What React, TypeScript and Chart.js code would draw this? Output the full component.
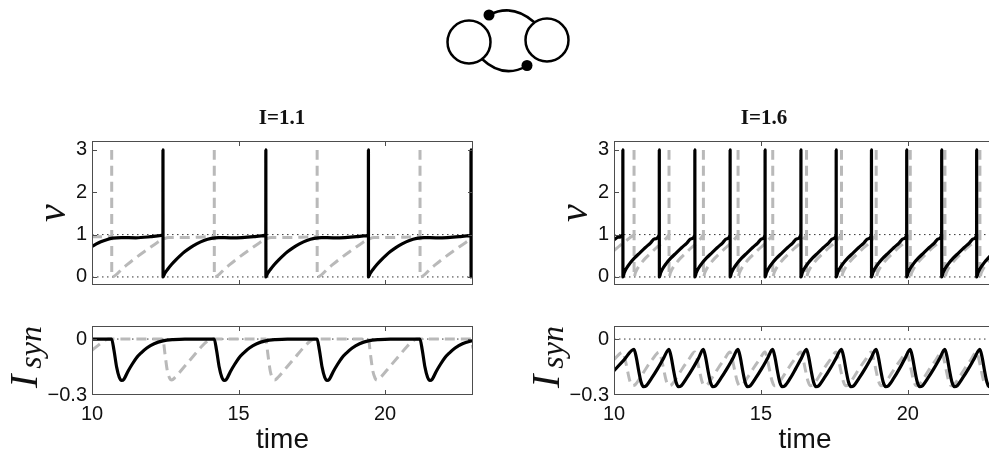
import React, { useEffect, useRef } from 'react';
import { Chart, registerables } from 'chart.js';

Chart.register(...registerables);

type Pt = [number, number | null];

// ---------- axes / labels ----------
const timeTicks = [10, 15, 20];
const timeRange = [10, 23];
const vTicks = [0, 1, 2, 3];
const vTickLabels = ['0', '1', '2', '3'];
const vRange = [-0.19, 3.21];
const synTicks = [-0.3, 0];
const synTickLabels = ['−0.3', '0'];
const synRange = [-0.3, 0.07];
const vRefLevels = [0, 1];
const synRefLevels = [0];
const panelTitles = ['I=1.1', 'I=1.6'];
const xAxisLabel = 'time';

// ---------- I = 1.1 ----------
const v11Black: Pt[] = [
  [10.00, 0.72], [10.15, 0.78], [10.30, 0.83], [10.50, 0.88], [10.70, 0.915], [11.00, 0.93], [11.50, 0.925], [12.00, 0.95], [12.25, 0.97], [12.42, 1.00], [12.422, 3.00], [12.424, 0.00],
  [12.48, 0.08], [12.57, 0.17], [12.72, 0.30], [12.87, 0.41], [13.02, 0.51], [13.17, 0.60], [13.37, 0.70], [13.57, 0.78], [13.82, 0.86], [14.07, 0.91], [14.32, 0.93], [14.72, 0.925], [15.12, 0.93], [15.52, 0.95], [15.77, 0.97], [15.93, 1.00], [15.932, 3.00], [15.934, 0.00],
  [15.99, 0.08], [16.08, 0.17], [16.23, 0.30], [16.38, 0.41], [16.53, 0.51], [16.68, 0.60], [16.88, 0.70], [17.08, 0.78], [17.33, 0.86], [17.58, 0.91], [17.83, 0.93], [18.23, 0.925], [18.63, 0.93], [19.03, 0.95], [19.28, 0.97], [19.43, 1.00], [19.432, 3.00], [19.434, 0.00],
  [19.49, 0.08], [19.58, 0.17], [19.73, 0.30], [19.88, 0.41], [20.03, 0.51], [20.18, 0.60], [20.38, 0.70], [20.58, 0.78], [20.83, 0.86], [21.08, 0.91], [21.33, 0.93], [21.73, 0.925], [22.13, 0.93], [22.53, 0.95], [22.78, 0.97], [22.93, 1.00], [22.932, 3.00], [22.934, 0.00], [23.00, 0.09],
];

const v11Gray: Pt[] = [
  [10.00, 0.95], [10.40, 0.95], [10.67, 0.96], [10.671, null], [10.672, 3.00], [10.674, 0.00],
  [11.07, 0.22], [11.47, 0.44], [11.87, 0.64], [12.22, 0.81], [12.42, 0.89], [12.62, 0.93], [13.17, 0.93], [13.67, 0.94], [13.97, 0.95], [14.17, 0.96], [14.171, null], [14.172, 3.00], [14.174, 0.00],
  [14.57, 0.22], [14.97, 0.44], [15.37, 0.64], [15.72, 0.81], [15.92, 0.89], [16.12, 0.93], [16.67, 0.93], [17.17, 0.94], [17.48, 0.95], [17.68, 0.96], [17.681, null], [17.682, 3.00], [17.684, 0.00],
  [18.08, 0.22], [18.48, 0.44], [18.88, 0.64], [19.23, 0.81], [19.43, 0.89], [19.63, 0.93], [20.18, 0.93], [20.68, 0.94], [20.99, 0.95], [21.19, 0.96], [21.191, null], [21.192, 3.00], [21.194, 0.00],
  [21.59, 0.22], [21.99, 0.44], [22.39, 0.64], [22.74, 0.81], [22.94, 0.89], [23.00, 0.90],
];

const syn11Black: Pt[] = [
  [10.00, 0], [10.67, 0], [10.75, -0.06], [10.84, -0.15], [10.93, -0.205], [11.01, -0.222], [11.09, -0.215], [11.22, -0.175], [11.37, -0.135], [11.52, -0.10], [11.67, -0.075], [11.87, -0.048], [12.12, -0.025], [12.42, -0.01], [12.77, -0.003], [13.17, 0], [14.17, 0],
  [14.25, -0.06], [14.34, -0.15], [14.43, -0.205], [14.51, -0.222], [14.59, -0.215], [14.72, -0.175], [14.87, -0.135], [15.02, -0.10], [15.17, -0.075], [15.37, -0.048], [15.62, -0.025], [15.92, -0.01], [16.27, -0.003], [16.67, 0], [17.68, 0],
  [17.76, -0.06], [17.85, -0.15], [17.94, -0.205], [18.02, -0.222], [18.10, -0.215], [18.23, -0.175], [18.38, -0.135], [18.53, -0.10], [18.68, -0.075], [18.88, -0.048], [19.13, -0.025], [19.43, -0.01], [19.78, -0.003], [20.18, 0], [21.19, 0],
  [21.27, -0.06], [21.36, -0.15], [21.45, -0.205], [21.53, -0.222], [21.61, -0.215], [21.74, -0.175], [21.89, -0.135], [22.04, -0.10], [22.19, -0.075], [22.39, -0.048], [22.64, -0.025], [22.94, -0.01], [23.00, -0.008],
];

const syn11Gray: Pt[] = [
  [10.00, -0.06], [10.20, -0.035], [10.40, -0.012], [10.55, 0], [12.42, 0],
  [12.49, -0.08], [12.57, -0.17], [12.65, -0.21], [12.72, -0.22], [12.84, -0.205], [13.14, -0.15], [13.44, -0.095], [13.74, -0.04], [13.92, -0.013], [14.07, 0], [15.93, 0],
  [16.00, -0.08], [16.08, -0.17], [16.16, -0.21], [16.23, -0.22], [16.35, -0.205], [16.65, -0.15], [16.95, -0.095], [17.25, -0.04], [17.43, -0.013], [17.58, 0], [19.43, 0],
  [19.50, -0.08], [19.58, -0.17], [19.66, -0.21], [19.73, -0.22], [19.85, -0.205], [20.15, -0.15], [20.45, -0.095], [20.75, -0.04], [20.93, -0.013], [21.08, 0], [22.93, 0], [23.00, -0.05],
];

// ---------- I = 1.6 ----------
const v16Black: Pt[] = [
  [10.00, 0.88], [10.15, 0.94], [10.30, 1.00], [10.302, 3.00], [10.304, 0.00],
  [10.35, 0.10], [10.42, 0.20], [10.54, 0.32], [10.70, 0.45], [10.88, 0.57], [11.06, 0.69], [11.24, 0.80], [11.38, 0.90], [11.54, 1.00], [11.542, 3.00], [11.544, 0.00],
  [11.59, 0.10], [11.66, 0.20], [11.78, 0.32], [11.94, 0.45], [12.12, 0.57], [12.30, 0.69], [12.48, 0.80], [12.62, 0.90], [12.75, 1.00], [12.752, 3.00], [12.754, 0.00],
  [12.80, 0.10], [12.87, 0.20], [12.99, 0.32], [13.15, 0.45], [13.33, 0.57], [13.51, 0.69], [13.69, 0.80], [13.83, 0.90], [13.95, 1.00], [13.952, 3.00], [13.954, 0.00],
  [14.00, 0.10], [14.07, 0.20], [14.19, 0.32], [14.35, 0.45], [14.53, 0.57], [14.71, 0.69], [14.89, 0.80], [15.03, 0.90], [15.14, 1.00], [15.142, 3.00], [15.144, 0.00],
  [15.19, 0.10], [15.26, 0.20], [15.38, 0.32], [15.54, 0.45], [15.72, 0.57], [15.90, 0.69], [16.08, 0.80], [16.22, 0.90], [16.36, 1.00], [16.362, 3.00], [16.364, 0.00],
  [16.41, 0.10], [16.48, 0.20], [16.60, 0.32], [16.76, 0.45], [16.94, 0.57], [17.12, 0.69], [17.30, 0.80], [17.44, 0.90], [17.56, 1.00], [17.562, 3.00], [17.564, 0.00],
  [17.61, 0.10], [17.68, 0.20], [17.80, 0.32], [17.96, 0.45], [18.14, 0.57], [18.32, 0.69], [18.50, 0.80], [18.64, 0.90], [18.76, 1.00], [18.762, 3.00], [18.764, 0.00],
  [18.81, 0.10], [18.88, 0.20], [19.00, 0.32], [19.16, 0.45], [19.34, 0.57], [19.52, 0.69], [19.70, 0.80], [19.84, 0.90], [19.96, 1.00], [19.962, 3.00], [19.964, 0.00],
  [20.01, 0.10], [20.08, 0.20], [20.20, 0.32], [20.36, 0.45], [20.54, 0.57], [20.72, 0.69], [20.90, 0.80], [21.04, 0.90], [21.15, 1.00], [21.152, 3.00], [21.154, 0.00],
  [21.20, 0.10], [21.27, 0.20], [21.39, 0.32], [21.55, 0.45], [21.73, 0.57], [21.91, 0.69], [22.09, 0.80], [22.23, 0.90], [22.34, 1.00], [22.342, 3.00], [22.344, 0.00],
  [22.39, 0.10], [22.46, 0.20], [22.58, 0.32], [22.74, 0.45], [22.92, 0.57], [23.00, 0.62],
];

const v16Gray: Pt[] = [
  [10.00, 0.62], [10.20, 0.74], [10.40, 0.85], [10.55, 0.93], [10.68, 1.00], [10.681, null], [10.682, 3.00], [10.684, 0.00],
  [10.73, 0.10], [10.80, 0.20], [10.92, 0.32], [11.08, 0.45], [11.26, 0.57], [11.44, 0.69], [11.62, 0.80], [11.76, 0.90], [11.87, 1.00], [11.871, null], [11.872, 3.00], [11.874, 0.00],
  [11.92, 0.10], [11.99, 0.20], [12.11, 0.32], [12.27, 0.45], [12.45, 0.57], [12.63, 0.69], [12.81, 0.80], [12.94, 0.90], [13.04, 1.00], [13.041, null], [13.042, 3.00], [13.044, 0.00],
  [13.09, 0.10], [13.16, 0.20], [13.28, 0.32], [13.44, 0.45], [13.62, 0.57], [13.80, 0.69], [13.98, 0.80], [14.11, 0.90], [14.22, 1.00], [14.221, null], [14.222, 3.00], [14.224, 0.00],
  [14.27, 0.10], [14.34, 0.20], [14.46, 0.32], [14.62, 0.45], [14.80, 0.57], [14.98, 0.69], [15.16, 0.80], [15.29, 0.90], [15.40, 1.00], [15.401, null], [15.402, 3.00], [15.404, 0.00],
  [15.45, 0.10], [15.52, 0.20], [15.64, 0.32], [15.80, 0.45], [15.98, 0.57], [16.16, 0.69], [16.34, 0.80], [16.45, 0.90], [16.55, 1.00], [16.551, null], [16.552, 3.00], [16.554, 0.00],
  [16.60, 0.10], [16.67, 0.20], [16.79, 0.32], [16.95, 0.45], [17.13, 0.57], [17.31, 0.69], [17.49, 0.80], [17.63, 0.90], [17.74, 1.00], [17.741, null], [17.742, 3.00], [17.744, 0.00],
  [17.79, 0.10], [17.86, 0.20], [17.98, 0.32], [18.14, 0.45], [18.32, 0.57], [18.50, 0.69], [18.68, 0.80], [18.81, 0.90], [18.92, 1.00], [18.921, null], [18.922, 3.00], [18.924, 0.00],
  [18.97, 0.10], [19.04, 0.20], [19.16, 0.32], [19.32, 0.45], [19.50, 0.57], [19.68, 0.69], [19.86, 0.80], [19.98, 0.90], [20.08, 1.00], [20.081, null], [20.082, 3.00], [20.084, 0.00],
  [20.13, 0.10], [20.20, 0.20], [20.32, 0.32], [20.48, 0.45], [20.66, 0.57], [20.84, 0.69], [21.02, 0.80], [21.15, 0.90], [21.26, 1.00], [21.261, null], [21.262, 3.00], [21.264, 0.00],
  [21.31, 0.10], [21.38, 0.20], [21.50, 0.32], [21.66, 0.45], [21.84, 0.57], [22.02, 0.69], [22.20, 0.80], [22.34, 0.90], [22.45, 1.00], [22.451, null], [22.452, 3.00], [22.454, 0.00],
  [22.50, 0.10], [22.57, 0.20], [22.69, 0.32], [22.85, 0.45], [23.00, 0.55],
];

const syn16Black: Pt[] = [
  [10.00, -0.17], [10.35, -0.11], [10.68, -0.055],
  [10.76, -0.10], [10.84, -0.17], [10.92, -0.23], [11.00, -0.255], [11.10, -0.25], [11.28, -0.21], [11.48, -0.16], [11.68, -0.105], [11.87, -0.055],
  [11.95, -0.10], [12.03, -0.17], [12.11, -0.23], [12.19, -0.255], [12.29, -0.25], [12.47, -0.21], [12.67, -0.16], [12.87, -0.105], [13.04, -0.055],
  [13.12, -0.10], [13.20, -0.17], [13.28, -0.23], [13.36, -0.255], [13.46, -0.25], [13.64, -0.21], [13.84, -0.16], [14.04, -0.105], [14.22, -0.055],
  [14.30, -0.10], [14.38, -0.17], [14.46, -0.23], [14.54, -0.255], [14.64, -0.25], [14.82, -0.21], [15.02, -0.16], [15.22, -0.105], [15.40, -0.055],
  [15.48, -0.10], [15.56, -0.17], [15.64, -0.23], [15.72, -0.255], [15.82, -0.25], [16.00, -0.21], [16.18, -0.16], [16.37, -0.105], [16.55, -0.055],
  [16.63, -0.10], [16.71, -0.17], [16.79, -0.23], [16.87, -0.255], [16.97, -0.25], [17.15, -0.21], [17.35, -0.16], [17.55, -0.105], [17.74, -0.055],
  [17.82, -0.10], [17.90, -0.17], [17.98, -0.23], [18.06, -0.255], [18.16, -0.25], [18.34, -0.21], [18.54, -0.16], [18.74, -0.105], [18.92, -0.055],
  [19.00, -0.10], [19.08, -0.17], [19.16, -0.23], [19.24, -0.255], [19.34, -0.25], [19.52, -0.21], [19.71, -0.16], [19.90, -0.105], [20.08, -0.055],
  [20.16, -0.10], [20.24, -0.17], [20.32, -0.23], [20.40, -0.255], [20.50, -0.25], [20.68, -0.21], [20.88, -0.16], [21.08, -0.105], [21.26, -0.055],
  [21.34, -0.10], [21.42, -0.17], [21.50, -0.23], [21.58, -0.255], [21.68, -0.25], [21.86, -0.21], [22.06, -0.16], [22.26, -0.105], [22.45, -0.055],
  [22.53, -0.10], [22.61, -0.17], [22.69, -0.23], [22.77, -0.255], [22.87, -0.25], [23.00, -0.225],
];

const syn16Gray: Pt[] = [
  [10.00, -0.11], [10.30, -0.07],
  [10.38, -0.11], [10.46, -0.17], [10.54, -0.225], [10.62, -0.25], [10.72, -0.245], [10.90, -0.205], [11.10, -0.155], [11.30, -0.11], [11.54, -0.07],
  [11.62, -0.11], [11.70, -0.17], [11.78, -0.225], [11.86, -0.25], [11.96, -0.245], [12.14, -0.205], [12.34, -0.155], [12.54, -0.11], [12.75, -0.07],
  [12.83, -0.11], [12.91, -0.17], [12.99, -0.225], [13.07, -0.25], [13.17, -0.245], [13.35, -0.205], [13.55, -0.155], [13.75, -0.11], [13.95, -0.07],
  [14.03, -0.11], [14.11, -0.17], [14.19, -0.225], [14.27, -0.25], [14.37, -0.245], [14.55, -0.205], [14.75, -0.155], [14.95, -0.11], [15.14, -0.07],
  [15.22, -0.11], [15.30, -0.17], [15.38, -0.225], [15.46, -0.25], [15.56, -0.245], [15.74, -0.205], [15.94, -0.155], [16.14, -0.11], [16.36, -0.07],
  [16.44, -0.11], [16.52, -0.17], [16.60, -0.225], [16.68, -0.25], [16.78, -0.245], [16.96, -0.205], [17.16, -0.155], [17.36, -0.11], [17.56, -0.07],
  [17.64, -0.11], [17.72, -0.17], [17.80, -0.225], [17.88, -0.25], [17.98, -0.245], [18.16, -0.205], [18.36, -0.155], [18.56, -0.11], [18.76, -0.07],
  [18.84, -0.11], [18.92, -0.17], [19.00, -0.225], [19.08, -0.25], [19.18, -0.245], [19.36, -0.205], [19.56, -0.155], [19.76, -0.11], [19.96, -0.07],
  [20.04, -0.11], [20.12, -0.17], [20.20, -0.225], [20.28, -0.25], [20.38, -0.245], [20.56, -0.205], [20.76, -0.155], [20.96, -0.11], [21.15, -0.07],
  [21.23, -0.11], [21.31, -0.17], [21.39, -0.225], [21.47, -0.25], [21.57, -0.245], [21.75, -0.205], [21.95, -0.155], [22.15, -0.11], [22.34, -0.07],
  [22.42, -0.11], [22.50, -0.17], [22.58, -0.225], [22.66, -0.25], [22.76, -0.245], [22.94, -0.205], [23.00, -0.19],
];

// ---------- styling ----------
const INK = '#111111';
const FRAME = '#4d4d4d';
const BLACK_LINE = '#000000';
const GRAY_LINE = '#b9b9b9';
const DOT_LINE = '#333333';
const SANS = '"Liberation Sans", Arial, Helvetica, sans-serif';
const SERIF = '"Liberation Serif", "Times New Roman", serif';
const Y_AXIS_W = 92;

const toXY = (pts: Pt[]) => pts.map(([x, y]) => ({ x, y }));

const decorPlugin = {
  id: 'decor',
  afterDraw(chart: any, _args: any, o: any) {
    const { ctx, chartArea: a } = chart;
    const xs = chart.scales.x;
    const ys = chart.scales.y;
    ctx.save();
    ctx.setLineDash([]);
    ctx.strokeStyle = FRAME;
    ctx.lineWidth = 1;
    ctx.strokeRect(a.left + 0.5, a.top + 0.5, a.right - a.left - 1, a.bottom - a.top - 1);
    ctx.beginPath();
    for (const t of xs.ticks) {
      const px = Math.round(xs.getPixelForValue(t.value)) + 0.5;
      if (px <= a.left + 2 || px >= a.right - 2) continue;
      ctx.moveTo(px, a.top); ctx.lineTo(px, a.top + 5);
      ctx.moveTo(px, a.bottom); ctx.lineTo(px, a.bottom - 5);
    }
    for (const t of ys.ticks) {
      const py = Math.round(ys.getPixelForValue(t.value)) + 0.5;
      if (py <= a.top + 2 || py >= a.bottom - 2) continue;
      ctx.moveTo(a.left, py); ctx.lineTo(a.left + 5, py);
      ctx.moveTo(a.right, py); ctx.lineTo(a.right - 5, py);
    }
    ctx.stroke();

    ctx.fillStyle = INK;
    if (o.title) {
      ctx.font = `bold 21px ${SERIF}`;
      ctx.textAlign = 'center';
      ctx.textBaseline = 'alphabetic';
      ctx.fillText(o.title, a.left + o.titleDx, a.top - 17);
    }
    if (o.yLabel === 'v') {
      ctx.save();
      ctx.translate(a.left - 36, (a.top + a.bottom) / 2);
      ctx.rotate(-Math.PI / 2);
      ctx.font = `italic 40px ${SERIF}`;
      ctx.textAlign = 'center';
      ctx.textBaseline = 'alphabetic';
      ctx.fillText('v', 0, 9.2);
      ctx.restore();
    } else if (o.yLabel === 'Isyn') {
      ctx.save();
      ctx.translate(a.left - 55, a.bottom - 7);
      ctx.rotate(-Math.PI / 2);
      ctx.textAlign = 'left';
      ctx.textBaseline = 'alphabetic';
      ctx.font = `italic 40px ${SERIF}`;
      ctx.fillText('I', 0, 0);
      const wI = ctx.measureText('I').width;
      ctx.font = `italic 32px ${SERIF}`;
      ctx.fillText('syn', wI + 6, 4);
      ctx.restore();
    }
    if (o.xLabel) {
      ctx.font = `28px ${SANS}`;
      ctx.textAlign = 'center';
      ctx.textBaseline = 'alphabetic';
      ctx.fillText(o.xLabel, (a.left + a.right) / 2, a.bottom + 53);
    }
    ctx.restore();
  },
};

type PanelSpec = {
  kind: 'v' | 'syn';
  left: number;
  top: number;
  w: number;
  h: number;
  padTop: number;
  xAxisH: number;
  black: Pt[];
  gray: Pt[];
  title?: string;
  titleDx?: number;
};

function buildConfig(p: PanelSpec): any {
  const isV = p.kind === 'v';
  const yTickVals = isV ? vTicks : synTicks;
  const yTickText = isV ? vTickLabels : synTickLabels;
  const yr = isV ? vRange : synRange;
  const refs = isV ? vRefLevels : synRefLevels;
  const tickFont = { family: SANS, size: 20 };
  return {
    type: 'line',
    data: {
      datasets: [
        {
          data: toXY(p.black),
          borderColor: BLACK_LINE,
          borderWidth: 3.2,
          borderJoinStyle: 'round',
          cubicInterpolationMode: 'monotone',
          pointRadius: 0,
          fill: false,
          order: 0,
        },
        {
          data: toXY(p.gray),
          borderColor: GRAY_LINE,
          borderWidth: 3,
          borderDash: [10, 6],
          cubicInterpolationMode: 'monotone',
          pointRadius: 0,
          fill: false,
          spanGaps: false,
          order: 1,
        },
        ...refs.map((lvl) => ({
          data: [
            { x: timeRange[0], y: lvl },
            { x: timeRange[1], y: lvl },
          ],
          borderColor: DOT_LINE,
          borderWidth: 1,
          borderDash: [1.5, 3.5],
          pointRadius: 0,
          fill: false,
          order: 2,
        })),
      ],
    },
    options: {
      animation: false,
      responsive: false,
      maintainAspectRatio: false,
      devicePixelRatio: 1,
      layout: { padding: { top: p.padTop, right: 17, left: 0, bottom: 0 } },
      events: [],
      plugins: {
        legend: { display: false },
        tooltip: { enabled: false },
        title: { display: false },
        decor: {
          title: p.title || '',
          titleDx: p.titleDx || 0,
          yLabel: isV ? 'v' : 'Isyn',
          xLabel: isV ? '' : xAxisLabel,
        },
      },
      scales: {
        x: {
          type: 'linear',
          min: timeRange[0],
          max: timeRange[1],
          grid: { display: false, drawTicks: false },
          border: { display: false },
          ticks: {
            display: !isV,
            font: tickFont,
            color: INK,
            padding: 7,
            maxRotation: 0,
            autoSkip: false,
            callback: (v: number) => String(v),
          },
          afterBuildTicks: (s: any) => {
            s.ticks = timeTicks.map((v) => ({ value: v }));
          },
          afterFit: (s: any) => {
            s.height = p.xAxisH;
          },
        },
        y: {
          type: 'linear',
          min: yr[0],
          max: yr[1],
          grid: { display: false, drawTicks: false },
          border: { display: false },
          ticks: {
            font: tickFont,
            color: INK,
            padding: 5,
            autoSkip: false,
            callback: (v: number) => {
              const i = yTickVals.indexOf(v);
              return i >= 0 ? yTickText[i] : '';
            },
          },
          afterBuildTicks: (s: any) => {
            s.ticks = yTickVals.map((v) => ({ value: v }));
          },
          afterFit: (s: any) => {
            s.width = Y_AXIS_W;
          },
        },
      },
    },
    plugins: [decorPlugin],
  };
}

function Panel({ spec }: { spec: PanelSpec }) {
  const ref = useRef<HTMLCanvasElement | null>(null);
  useEffect(() => {
    if (!ref.current) return;
    const chart = new Chart(ref.current, buildConfig(spec));
    return () => chart.destroy();
  }, []);
  return (
    <canvas
      ref={ref}
      width={spec.w}
      height={spec.h}
      style={{ position: 'absolute', left: spec.left, top: spec.top, width: spec.w, height: spec.h }}
    />
  );
}

const panels: PanelSpec[] = [
  { kind: 'v', left: 0, top: 96, w: 490, h: 209, padTop: 45, xAxisH: 20, black: v11Black, gray: v11Gray, title: panelTitles[0], titleDx: 190 },
  { kind: 'syn', left: 0, top: 306, w: 490, h: 152, padTop: 20, xAxisH: 63, black: syn11Black, gray: syn11Gray },
  { kind: 'v', left: 522, top: 96, w: 491, h: 209, padTop: 45, xAxisH: 20, black: v16Black, gray: v16Gray, title: panelTitles[1], titleDx: 150 },
  { kind: 'syn', left: 522, top: 306, w: 491, h: 152, padTop: 20, xAxisH: 63, black: syn16Black, gray: syn16Gray },
];

function Diagram() {
  return (
    <svg width={989} height={90} style={{ position: 'absolute', left: 0, top: 0 }}>
      <circle cx={469} cy={42} r={21.5} fill="none" stroke="#000" strokeWidth={2.5} />
      <circle cx={547} cy={40} r={21.5} fill="none" stroke="#000" strokeWidth={2.5} />
      <path d="M 489 15 Q 512 3 534 22" fill="none" stroke="#000" strokeWidth={2.5} />
      <path d="M 482 59 Q 503 79 527 66" fill="none" stroke="#000" strokeWidth={2.5} />
      <circle cx={489} cy={15} r={5.5} fill="#000" />
      <circle cx={527} cy={65.5} r={5.5} fill="#000" />
    </svg>
  );
}

export default function App() {
  return (
    <div
      style={{
        position: 'fixed',
        left: 0,
        top: 0,
        width: 989,
        height: 458,
        overflow: 'hidden',
        background: '#ffffff',
      }}
    >
      <Diagram />
      {panels.map((p, i) => (
        <Panel key={i} spec={p} />
      ))}
    </div>
  );
}
